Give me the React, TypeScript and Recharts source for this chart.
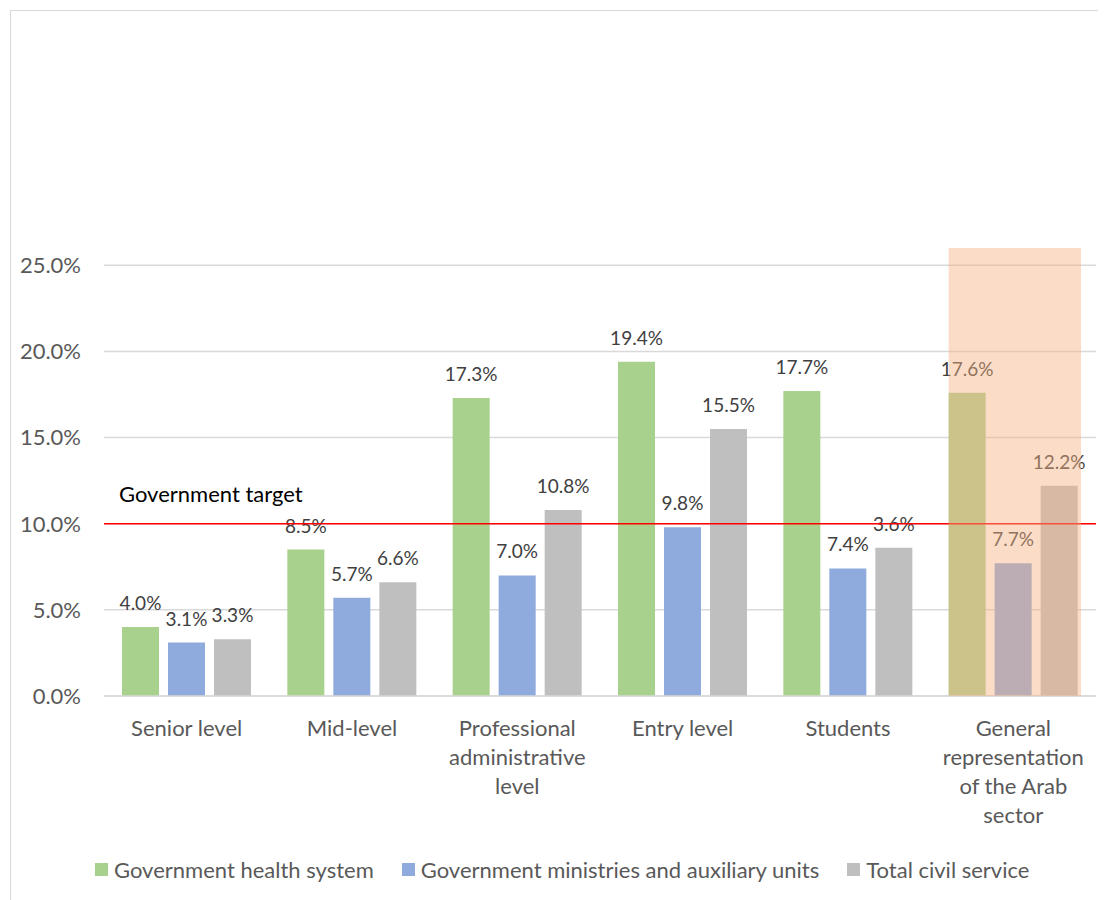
import React from "react";
import {
  BarChart,
  Bar,
  XAxis,
  YAxis,
  CartesianGrid,
  ReferenceLine,
  ReferenceArea,
  LabelList,
  Legend,
} from "recharts";

const categories = [
  "Senior level",
  "Mid-level",
  "Professional administrative level",
  "Entry level",
  "Students",
  "General representation of the Arab sector",
];
const healthSystem = [4.0, 8.5, 17.3, 19.4, 17.7, 17.6];
const ministries = [3.1, 5.7, 7.0, 9.8, 7.4, 7.7];
const civilService = [3.3, 6.6, 10.8, 15.5, 8.6, 12.2];
// the label shown on the students bar reads 3.6% in the source
const civilServiceLabels = ["3.3%", "6.6%", "10.8%", "15.5%", "3.6%", "12.2%"];
const yTicks = [0, 5, 10, 15, 20, 25];
const target = 10;
const highlighted = categories[5];

const series = [
  { key: "health", name: "Government health system", color: "#A9D18E" },
  { key: "ministries", name: "Government ministries and auxiliary units", color: "#8FAADC" },
  { key: "civil", name: "Total civil service", color: "#BFBFBF" },
];

const data = categories.map((name, i) => ({
  name,
  health: healthSystem[i],
  ministries: ministries[i],
  civil: civilService[i],
  healthLabel: healthSystem[i].toFixed(1) + "%",
  ministriesLabel: ministries[i].toFixed(1) + "%",
  civilLabel: civilServiceLabels[i],
}));

const FONT = "Lato, 'Open Sans', sans-serif";
const AXIS_TEXT = "#595959";
const LABEL_TEXT = "#404040";

// greedy word wrap, about as wide as the Excel category slot
function wrap(label: string, maxChars = 14) {
  const lines: string[] = [];
  let cur = "";
  label.split(" ").forEach((w) => {
    if (cur && (cur + " " + w).length > maxChars) {
      lines.push(cur);
      cur = w;
    } else {
      cur = cur ? cur + " " + w : w;
    }
  });
  if (cur) lines.push(cur);
  return lines;
}

const CategoryTick = (props: any) => {
  const { x, y, payload } = props;
  return (
    <text x={x} y={y + 32} textAnchor="middle" fontSize={22} fontFamily={FONT} fill={AXIS_TEXT}>
      {wrap(payload.value).map((line, i) => (
        <tspan key={i} x={x} dy={i === 0 ? 0 : 29}>
          {line}
        </tspan>
      ))}
    </text>
  );
};

const LegendContent = () => (
  <div
    style={{
      display: "flex",
      justifyContent: "flex-start",
      paddingLeft: 84,
      gap: 28,
      fontFamily: FONT,
      fontSize: 22,
      color: AXIS_TEXT,
    }}
  >
    {series.map((s) => (
      <div key={s.key} style={{ display: "flex", alignItems: "center" }}>
        <span style={{ width: 13, height: 13, background: s.color, marginRight: 6, display: "inline-block" }} />
        {s.name}
      </div>
    ))}
  </div>
);

export default function App() {
  return (
    <div
      style={{
        marginLeft: 2,
        marginTop: 2,
        width: 1096,
        height: 890,
        borderLeft: "1px solid #d9d9d9",
        borderTop: "1px solid #d9d9d9",
        boxSizing: "border-box",
        overflow: "hidden",
      }}
    >
      <BarChart
        width={1095}
        height={889}
        data={data}
        margin={{ top: 237, right: 10, left: 0, bottom: 4 }}
        barCategoryGap={18}
        barGap={9}
      >
        <CartesianGrid vertical={false} stroke="#d9d9d9" strokeWidth={1.5} horizontalValues={yTicks} />
        <YAxis
          domain={[0, 26]}
          ticks={yTicks}
          tickFormatter={(v: number) => v.toFixed(1) + "%"}
          axisLine={false}
          tickLine={false}
          width={93}
          tickMargin={17}
          tick={{ fontSize: 22, fontFamily: FONT, fill: AXIS_TEXT }}
        />
        <XAxis
          dataKey="name"
          interval={0}
          height={160}
          axisLine={{ stroke: "#d9d9d9", strokeWidth: 1.5 }}
          tickLine={false}
          tick={<CategoryTick />}
        />
        {series.map((s) => (
          <Bar key={s.key} dataKey={s.key} name={s.name} fill={s.color} isAnimationActive={false}>
            <LabelList
              dataKey={s.key + "Label"}
              position="top"
              offset={17}
              fontSize={19}
              fontFamily={FONT}
              fill={LABEL_TEXT}
            />
          </Bar>
        ))}
        <ReferenceArea
          x1={highlighted}
          x2={highlighted}
          y1={0}
          y2={26}
          zIndex={2500}
          fill="#F4B183"
          fillOpacity={0.45}
          stroke="none"
          shape={(p: any) => (
            <rect x={p.x + 18} y={p.y} width={p.width - 33} height={p.height} fill="#F4B183" fillOpacity={0.45} />
          )}
        />
        <ReferenceLine
          y={target}
          stroke="#FF0000"
          strokeWidth={1.5}
          zIndex={2400}
          label={(p: any) => (
            <text
              x={p.viewBox.x + 15}
              y={p.viewBox.y - 22}
              fontSize={22}
              fontFamily={FONT}
              fill="#000"
            >
              Government target
            </text>
          )}
        />
        <Legend verticalAlign="bottom" height={40} content={<LegendContent />} />
      </BarChart>
    </div>
  );
}
